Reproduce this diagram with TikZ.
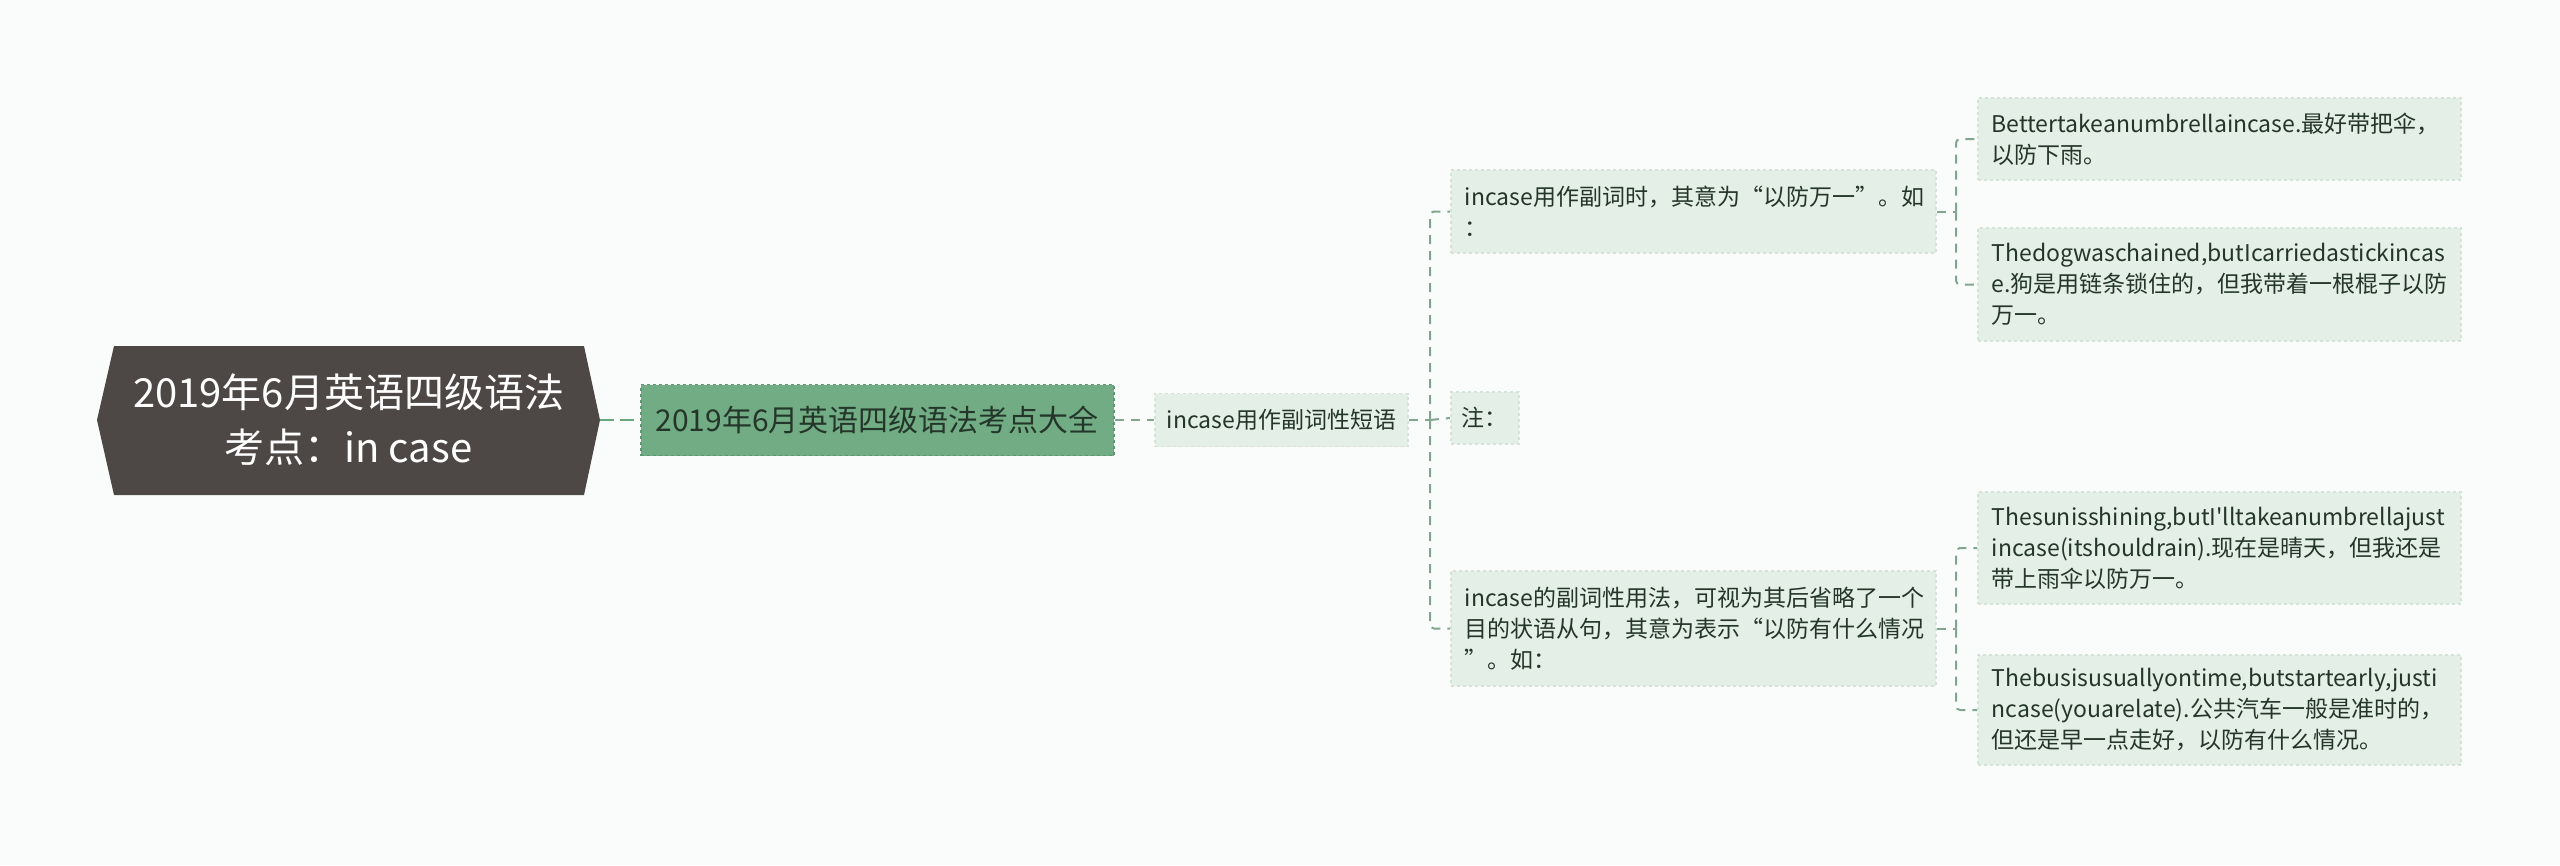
\documentclass[tikz,border=0pt]{standalone}
\usepackage{fontspec}
\setmainfont{Noto Sans CJK SC}
\usepackage{xcolor}

\definecolor{bgpaper}{RGB}{250,252,252}
\definecolor{rootfill}{RGB}{77,71,70}
\definecolor{guidefill}{RGB}{114,172,132}
\definecolor{guideline}{RGB}{92,152,112}
\definecolor{leaffill}{RGB}{228,239,231}
\definecolor{leafline}{RGB}{212,227,216}
\definecolor{linkgreen}{RGB}{104,166,124}
\definecolor{linkgray}{RGB}{128,166,142}
\definecolor{inktext}{RGB}{36,54,42}

\begin{document}
\begin{tikzpicture}[x=1pt,y=-1pt,
  every node/.style={font=\fontsize{23}{31}\selectfont,text=inktext,inner sep=0pt},
  leafbox/.style={fill=leaffill,draw=leafline,dashed,line width=1.5pt,align=left,inner xsep=14pt,anchor=west},
  guidebox/.style={fill=guidefill,draw=guideline,dashed,line width=1.5pt,anchor=west,minimum height=71pt,
    font=\fontsize{30}{36}\selectfont},
  rootlink/.style={draw=linkgreen,line width=2.5pt,dash pattern=on 14pt off 6pt},
  sublink/.style={draw=linkgray,line width=2pt,dash pattern=on 9pt off 7pt,rounded corners=4pt}]
\useasboundingbox (0,0) rectangle (2560,865);
\fill[bgpaper] (0,0) rectangle (2560,865);

\fill[rootfill] (97,420) -- (114,346) -- (584,346) -- (600,420) -- (584,495) -- (114,495) -- cycle;
\node[minimum width=503pt,minimum height=149pt,align=center,text=white,
  font=\fontsize{40}{55}\selectfont] (root) at (348.5,420) {2019年6月英语四级语法\\考点：in case};

\node[guidebox,minimum width=473pt] (guide) at (640,420) {2019年6月英语四级语法考点大全};
\node[leafbox,inner xsep=12pt,minimum height=53pt] (phrase) at (1154,420) {incase用作副词性短语};

\node[leafbox,text width=457pt,minimum height=83pt] (adv) at (1450,211.5)
  {incase用作副词时，其意为“以防万一”。如\\：};
\node[leafbox,inner xsep=11pt,minimum height=52pt] (note) at (1450,418) {注：};
\node[leafbox,text width=457pt,minimum height=115pt] (usage) at (1450,628.5)
  {incase的副词性用法，可视为其后省略了一个\\目的状语从句，其意为表示“以防有什么情况\\”。如：};

\node[leafbox,text width=455pt,minimum height=82pt] (umbrella) at (1977,139)
  {Bettertakeanumbrellaincase.最好带把伞，\\以防下雨。};
\node[leafbox,text width=455pt,minimum height=113pt] (dog) at (1977,284.5)
  {Thedogwaschained,butIcarriedastickincas\\e.狗是用链条锁住的，但我带着一根棍子以防\\万一。};
\node[leafbox,text width=455pt,minimum height=112pt] (sun) at (1977,548)
  {Thesunisshining,butI\textquotesingle lltakeanumbrellajust\\incase(itshouldrain).现在是晴天，但我还是\\带上雨伞以防万一。};
\node[leafbox,text width=455pt,minimum height=110pt] (bus) at (1977,710)
  {Thebusisusuallyontime,butstartearly,justi\\ncase(youarelate).公共汽车一般是准时的，\\但还是早一点走好，以防有什么情况。};

\coordinate (j2) at (1430,420);
\coordinate (j3) at (1956,211.5);
\coordinate (j4) at (1956,628.5);

\draw[rootlink] (root.east) -- (guide.west);
\draw[sublink] (guide.east) -- (phrase.west);
\draw[sublink] (phrase.east) -- (j2);
\draw[sublink] (j2) |- (adv.west);
\draw[sublink] (j2) -- (note.west);
\draw[sublink] (j2) |- (usage.west);
\draw[sublink] (adv.east) -- (j3);
\draw[sublink] (j3) |- (umbrella.west);
\draw[sublink] (j3) |- (dog.west);
\draw[sublink] (usage.east) -- (j4);
\draw[sublink] (j4) |- (sun.west);
\draw[sublink] (j4) |- (bus.west);
\end{tikzpicture}
\end{document}
